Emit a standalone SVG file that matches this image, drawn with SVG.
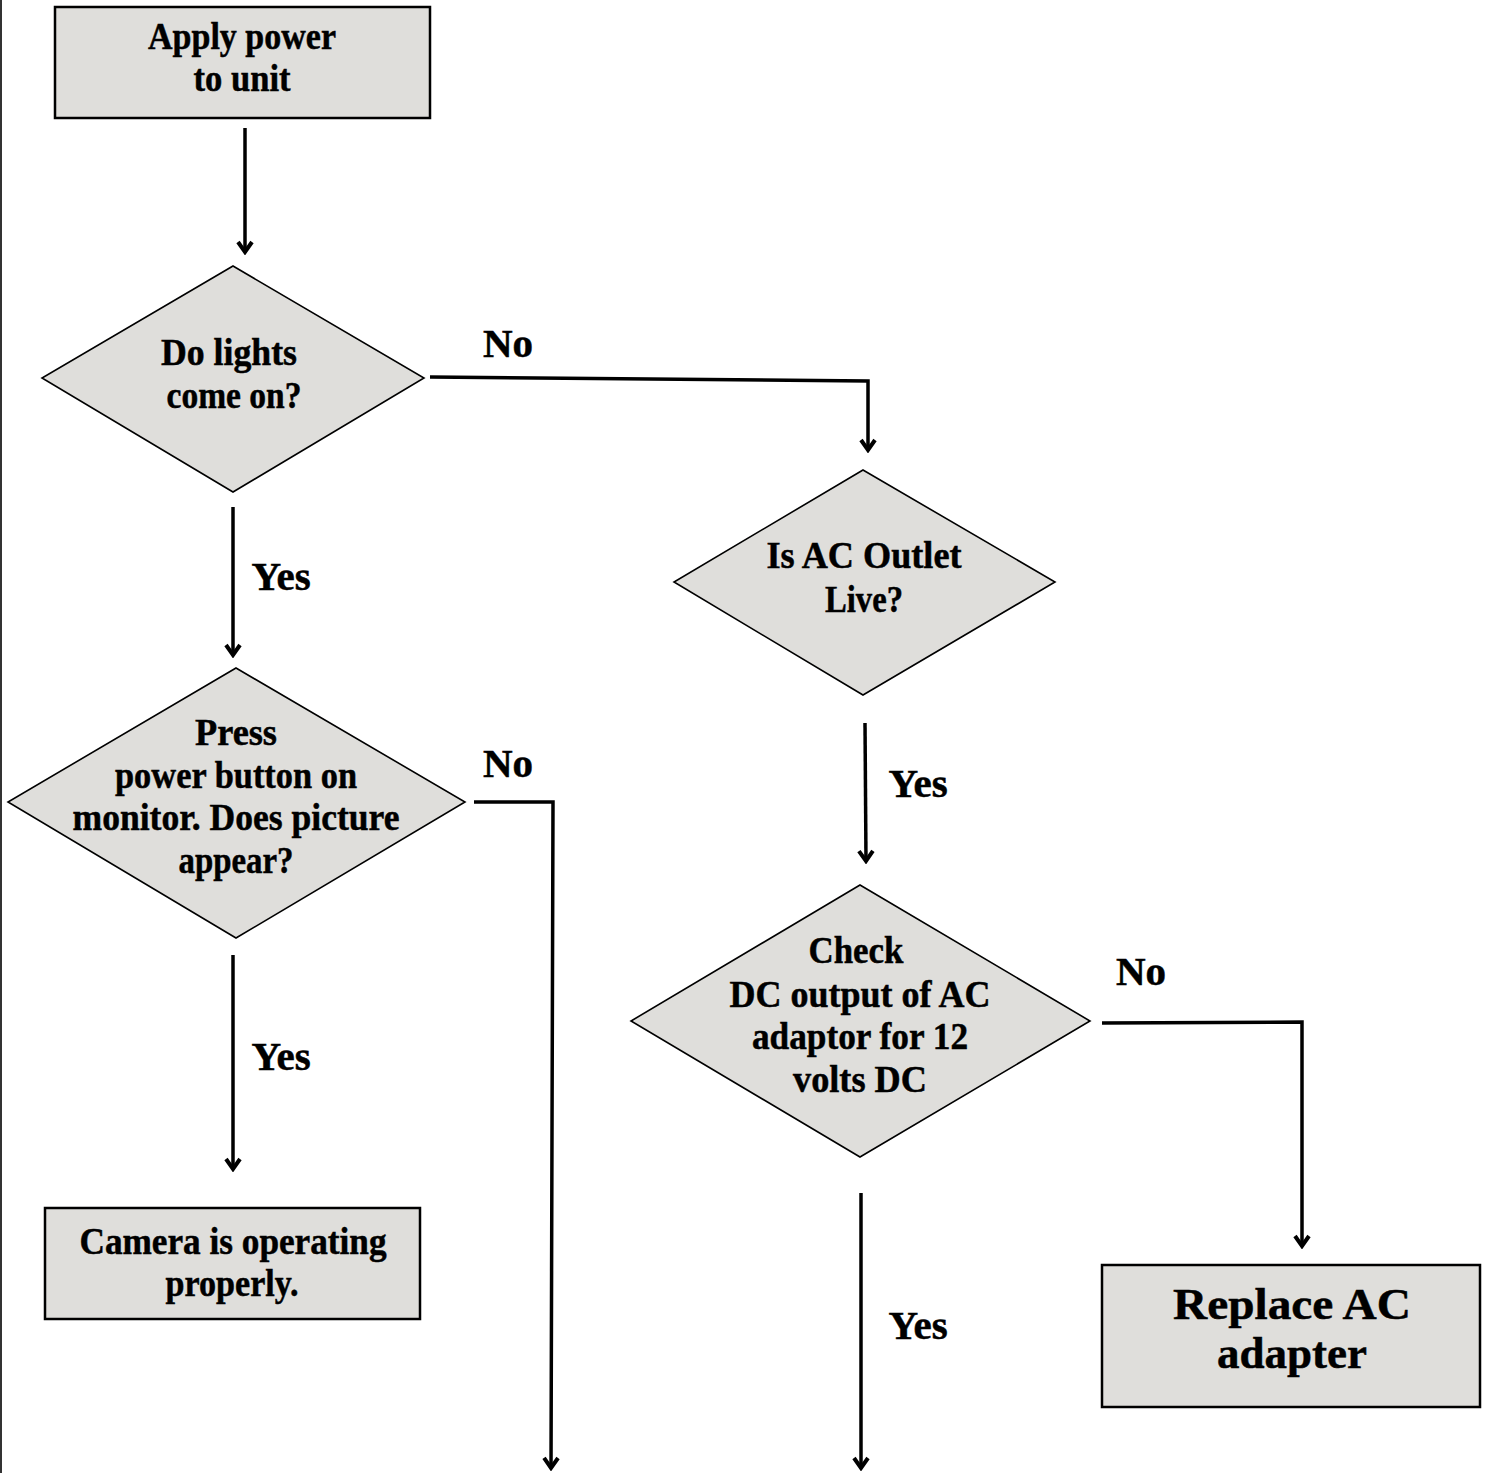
<svg xmlns="http://www.w3.org/2000/svg" width="1487" height="1473" viewBox="0 0 1487 1473">
<style>
.node{fill:#dfdedb;stroke:#000;}
.box{stroke-width:2.5;}
.dia{stroke-width:1.6;}
text{font-family:"Liberation Serif","Times New Roman",serif;font-weight:bold;fill:#000;text-anchor:middle;stroke:#000;stroke-width:0.5;}
.t{font-size:38px;}
.big{font-size:45px;}
.lbl{font-size:41px;}
.conn{fill:none;stroke:#000;stroke-width:3.5;marker-end:url(#arr);}
</style>
<defs>
<marker id="arr" viewBox="-14 -10 17 20" refX="0" refY="0" markerWidth="17" markerHeight="20" markerUnits="userSpaceOnUse" orient="auto">
<path d="M-10,-7 L0,0 L-10,7" fill="none" stroke="#000" stroke-width="4"/>
</marker>
</defs>
<rect width="1487" height="1473" fill="#fff"/>
<line x1="1" y1="0" x2="1" y2="1473" stroke="#333" stroke-width="2"/>

<g id="connectors">
<path class="conn" d="M245,128 L245,252"/>
<path class="conn" d="M430,377 L868,381 L868,450"/>
<path class="conn" d="M233,507 L233,655"/>
<path class="conn" d="M474,802 L553,802 L551,1468"/>
<path class="conn" d="M233,955 L233,1169"/>
<path class="conn" d="M865,723 L866,861"/>
<path class="conn" d="M1102,1023 L1302,1022 L1302,1246"/>
<path class="conn" d="M861,1193 L861,1468"/>
</g>

<g id="labels">
<text class="lbl" x="508" y="357">No</text>
<text class="lbl" x="281" y="590">Yes</text>
<text class="lbl" x="508" y="777">No</text>
<text class="lbl" x="281" y="1070">Yes</text>
<text class="lbl" x="918" y="797">Yes</text>
<text class="lbl" x="1141" y="985">No</text>
<text class="lbl" x="918" y="1339">Yes</text>
</g>

<g id="n-apply">
<rect class="node box" x="55" y="7" width="375" height="111"/>
<text class="t" x="242" y="49" textLength="188" lengthAdjust="spacingAndGlyphs">Apply power</text>
<text class="t" x="242" y="91" textLength="97" lengthAdjust="spacingAndGlyphs">to unit</text>
</g>

<g id="n-lights">
<polygon class="node dia" points="233,266 424,378 233,492 42,378"/>
<text class="t" x="229" y="365" textLength="136" lengthAdjust="spacingAndGlyphs">Do lights</text>
<text class="t" x="234" y="408" textLength="135" lengthAdjust="spacingAndGlyphs">come on?</text>
</g>

<g id="n-outlet">
<polygon class="node dia" points="863,470 1055,582 863,695 674,582"/>
<text class="t" x="864" y="568" textLength="195" lengthAdjust="spacingAndGlyphs">Is AC Outlet</text>
<text class="t" x="864" y="612" textLength="78" lengthAdjust="spacingAndGlyphs">Live?</text>
</g>

<g id="n-press">
<polygon class="node dia" points="236,668 465,802 236,938 8,802"/>
<text class="t" x="236" y="745" textLength="82" lengthAdjust="spacingAndGlyphs">Press</text>
<text class="t" x="236" y="788" textLength="242" lengthAdjust="spacingAndGlyphs">power button on</text>
<text class="t" x="236" y="830" textLength="327" lengthAdjust="spacingAndGlyphs">monitor. Does picture</text>
<text class="t" x="236" y="873" textLength="115" lengthAdjust="spacingAndGlyphs">appear?</text>
</g>

<g id="n-camera">
<rect class="node box" x="45" y="1208" width="375" height="111"/>
<text class="t" x="233" y="1254" textLength="307" lengthAdjust="spacingAndGlyphs">Camera is operating</text>
<text class="t" x="232" y="1296" textLength="133" lengthAdjust="spacingAndGlyphs">properly.</text>
</g>

<g id="n-check">
<polygon class="node dia" points="860,885 1090,1021 860,1157 631,1021"/>
<text class="t" x="856" y="963" textLength="95" lengthAdjust="spacingAndGlyphs">Check</text>
<text class="t" x="860" y="1007" textLength="261" lengthAdjust="spacingAndGlyphs">DC output of AC</text>
<text class="t" x="860" y="1049" textLength="216" lengthAdjust="spacingAndGlyphs">adaptor for 12</text>
<text class="t" x="860" y="1092" textLength="134" lengthAdjust="spacingAndGlyphs">volts DC</text>
</g>

<g id="n-replace">
<rect class="node box" x="1102" y="1265" width="378" height="142"/>
<text class="big" x="1292" y="1319" textLength="238" lengthAdjust="spacingAndGlyphs">Replace AC</text>
<text class="big" x="1292" y="1368" textLength="150" lengthAdjust="spacingAndGlyphs">adapter</text>
</g>
</svg>
